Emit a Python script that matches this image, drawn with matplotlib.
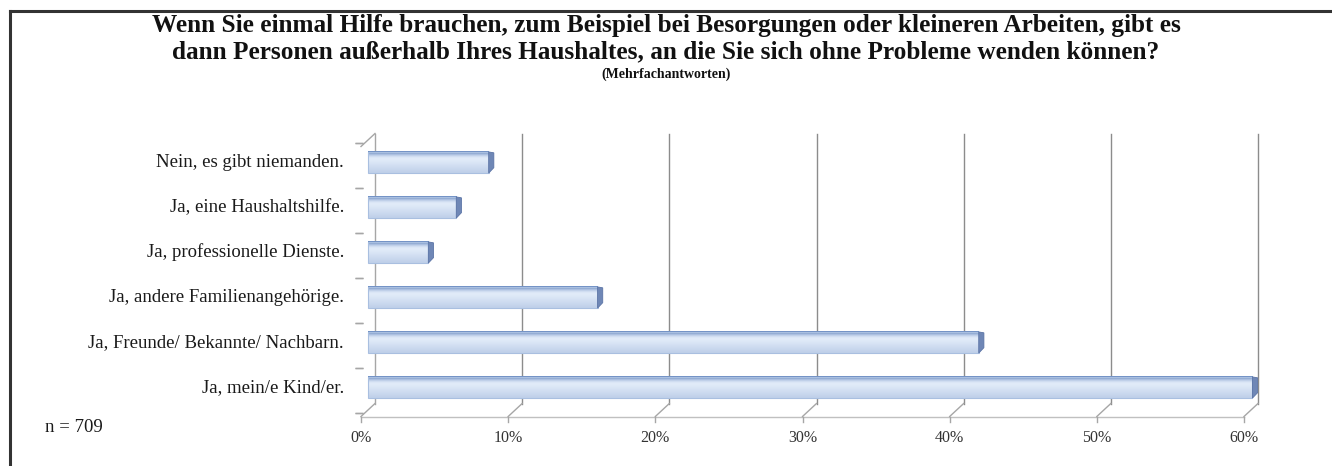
import matplotlib.pyplot as plt
import matplotlib.transforms as mtransforms
from matplotlib.patches import Rectangle, Polygon
from matplotlib.colors import LinearSegmentedColormap
import numpy as np

# Daten
kategorien = ['Ja, mein/e Kind/er.',
              'Ja, Freunde/ Bekannte/ Nachbarn.',
              'Ja, andere Familienangehörige.',
              'Ja, professionelle Dienste.',
              'Ja, eine Haushaltshilfe.',
              'Nein, es gibt niemanden.']
werte = [60.1, 41.5, 15.6, 4.1, 6.0, 8.2]
ticks = [0, 10, 20, 30, 40, 50, 60]
tick_labels = ['0%', '10%', '20%', '30%', '40%', '50%', '60%']

titel = ('Wenn Sie einmal Hilfe brauchen, zum Beispiel bei Besorgungen oder kleineren Arbeiten, gibt es\n'
         'dann Personen außerhalb Ihres Haushaltes, an die Sie sich ohne Probleme wenden können?')
untertitel = '(Mehrfachantworten)'
n_text = 'n = 709'

W, H = 1332, 466
fig = plt.figure(figsize=(W / 100, H / 100), dpi=100)
plt.rcParams['font.family'] = ['Liberation Serif', 'DejaVu Serif']

# Achse in Pixeln (mittlere Ebene der 3D-Darstellung)
x0, x1 = 368, 1251
y_top, y_bot = 140, 410
ax = fig.add_axes([x0 / W, 1 - y_bot / H, (x1 - x0) / W, (y_bot - y_top) / H])
ax.set_xlim(0, 60)
ax.set_ylim(-0.5, 5.5)
ax.axis('off')

def versatz(dx, dy):
    return mtransforms.ScaledTranslation(dx / 100, dy / 100, fig.dpi_scale_trans)

hinten = versatz(7, 6.5)
vorne = versatz(-7, -6.5)
xt = ax.get_xaxis_transform()
gitter_farbe = '#8c8c8c'

# Rückwand: Gitterlinien
for t, lab in zip(ticks, tick_labels):
    farbe = gitter_farbe if t > 0 else '#a6a6a6'
    ax.plot([t, t], [0, 1], color=farbe, lw=1, transform=xt + hinten, clip_on=False)
    p_back = (xt + hinten).transform((t, 0))
    p_front = (xt + vorne).transform((t, 0))
    fig.add_artist(plt.Line2D([p_back[0], p_front[0]], [p_back[1], p_front[1]],
                              transform=None, color='#a6a6a6', lw=1))
    fig.add_artist(plt.Line2D([p_front[0], p_front[0]], [p_front[1], p_front[1] - 5],
                              transform=None, color='#a6a6a6', lw=1))
    ax.text(t, 0, lab, transform=xt + vorne + versatz(0, -21),
            ha='center', va='center', fontsize=11.5, color='#333333')

# Schräge oben links
p_b = (xt + hinten).transform((0, 1))
p_f = (xt + vorne).transform((0, 1))
fig.add_artist(plt.Line2D([p_b[0], p_f[0]], [p_b[1], p_f[1]], transform=None, color='#a6a6a6', lw=1))

# Bodenlinie vorne
ax.plot([0, 60], [0, 0], color='#c0c0c0', lw=1, transform=xt + vorne, clip_on=False)

# Kleine Striche an der y-Achse
for g in np.arange(-0.5, 5.6, 1.0):
    ax.plot([0, 0], [g, g], transform=ax.transData + versatz(-9, -3), color='#a6a6a6', lw=1,
            marker='_', markersize=6, clip_on=False)

# Balken mit Verlauf (oben dunkler Rand, Mitte hell)
verlauf = np.array([0.45, 0.6, 0.8, 0.93, 1.0, 1.0, 0.98, 0.96, 0.94, 0.92, 0.9, 0.88, 0.86, 0.84])[:, None]
cmap = LinearSegmentedColormap.from_list('blau', ['#6f8fc4', '#e1ebf9'])
h = 0.47
for i, v in enumerate(werte):
    ax.imshow(verlauf, extent=[0, v, i - h / 2, i + h / 2], cmap=cmap, vmin=0.45, vmax=1.0,
              aspect='auto', interpolation='bicubic', zorder=3, clip_on=False)
    ax.add_patch(Rectangle((0, i - h / 2), v, h, fill=False, ec='#a9bfe0', lw=0.8, zorder=4,
                           clip_on=False))
    # Stirnseite (3D-Kappe)
    ax.add_patch(Polygon([(v, i - h / 2), (v, i + h / 2), (v + 0.35, i + h / 2 - 0.02),
                          (v + 0.35, i - h / 2 + 0.12)], closed=True,
                         fc='#6f87b6', ec='#5b74a6', lw=0.6, zorder=4, clip_on=False))
ax.set_ylim(-0.5, 5.5)
ax.set_xlim(0, 60)

# Kategorien
for i, k in enumerate(kategorien):
    fig.text(344 / W, 1 - (387.5 - 45 * i) / H, k, ha='right', va='center', fontsize=13.5,
             color='#1a1a1a')

fig.text(45 / W, 1 - 428 / H, n_text, ha='left', va='center', fontsize=13.5, color='#1a1a1a')

# Titel
fig.text(666 / W, 1 - 39 / H, titel, ha='center', va='center', fontsize=18.2, fontweight='bold',
         linespacing=1.2, color='#111111')
fig.text(666 / W, 1 - 74 / H, untertitel, ha='center', va='center', fontsize=10,
         fontweight='bold', color='#111111')

# Rahmen
fig.add_artist(plt.Line2D([10 / W, 10 / W], [0, 1 - 11 / H], transform=fig.transFigure,
                          color='#333333', lw=2.2))
fig.add_artist(plt.Line2D([10 / W, 1], [1 - 11 / H, 1 - 11 / H], transform=fig.transFigure,
                          color='#333333', lw=2.2))

fig.savefig('out.png', dpi=100)
